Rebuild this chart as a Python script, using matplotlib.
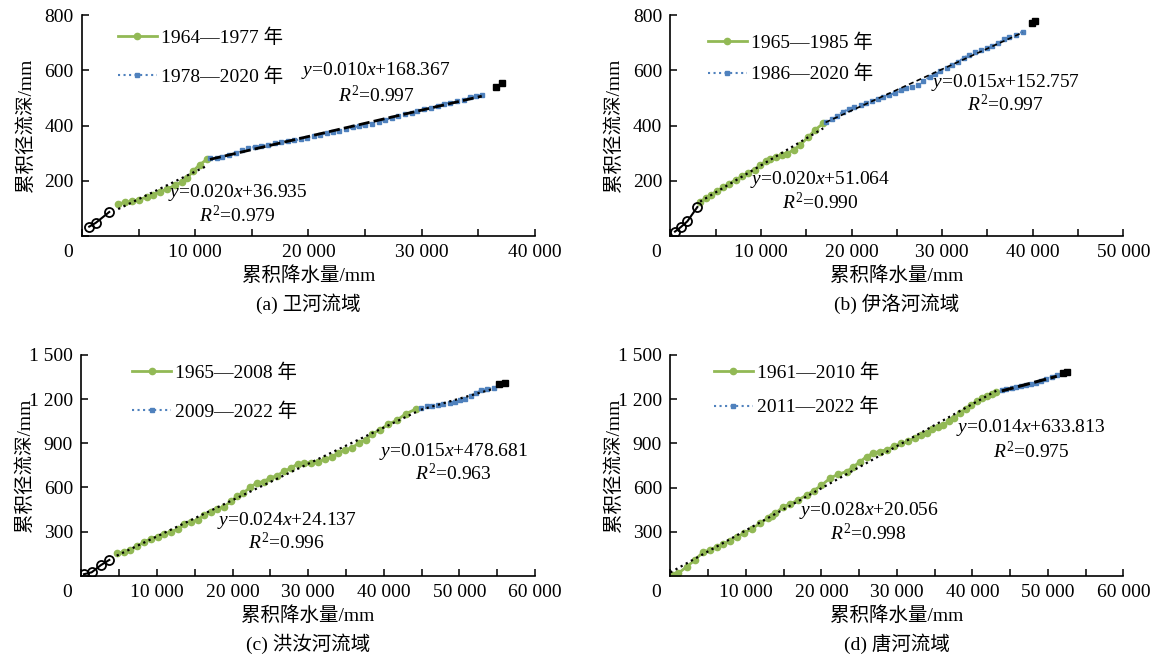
import numpy as np
import matplotlib
matplotlib.use('Agg')
import matplotlib.pyplot as plt
from matplotlib.ticker import FuncFormatter, MultipleLocator

plt.rcParams['font.family'] = ['Liberation Serif', 'Noto Sans CJK SC']
plt.rcParams['mathtext.fontset'] = 'custom'
plt.rcParams['mathtext.rm'] = 'Liberation Serif'
plt.rcParams['mathtext.it'] = 'Liberation Serif:italic'
plt.rcParams['font.size'] = 14

GREEN = '#92B955'
BLUE = '#4F81BD'

# ---- (a) 卫河流域 ----
a_pre_x = [640, 1230, 2410]
a_pre_y = [34, 48, 87]
a_g_x = [3200, 3800, 4400, 5000, 5700, 6300, 6900, 7500, 8200, 8800, 9300, 9800, 10400, 11000]
a_g_y = [116, 122, 125, 132, 140, 150, 160, 170, 183, 196, 210, 235, 258, 277]
a_b_x = [11300, 11900, 12400, 13000, 13600, 14100, 14700, 15300, 15800, 16400, 17000, 17600,
         18200, 18700, 19300, 19900, 20500, 21000, 21600, 22200, 22700, 23300, 23900, 24500,
         25000, 25600, 26200, 26800, 27400, 27900, 28500, 29100, 29600, 30200, 30800, 31400,
         32000, 32500, 33100, 33700, 34300, 34800, 35300]
a_b_y = [281, 283, 287, 293, 300, 310, 318, 323, 326, 330, 335, 340, 343, 346, 350, 355, 362,
         366, 372, 378, 381, 386, 393, 398, 402, 406, 414, 421, 428, 433, 442, 447, 452, 460,
         465, 472, 478, 483, 488, 494, 502, 507, 510]
a_post_x = [36600, 37130]
a_post_y = [538, 553]

# ---- (b) 伊洛河流域 ----
b_pre_x = [510, 1140, 1870, 2980]
b_pre_y = [16, 32, 53, 105]
b_g_x = [3280, 3900, 4500, 5200, 5860, 6500, 7200, 7900, 8600, 9300, 9920, 10500, 11030,
         11700, 12300, 12880, 13600, 14350, 15200, 16010, 16870]
b_g_y = [124, 137, 150, 163, 178, 190, 203, 216, 229, 240, 256, 270, 280, 285, 292, 298,
         312, 330, 358, 385, 408]
b_b_x = [17130, 17800, 18400, 19100, 19700, 20300, 21000, 21600, 22200, 22900, 23500, 24100,
         24800, 25400, 26000, 26700, 27300, 27900, 28600, 29200, 29800, 30500, 31100, 31700,
         32400, 33000, 33600, 34300, 34900, 35500, 36200, 36800, 37400, 38100, 38900]
b_b_y = [414, 425, 436, 450, 460, 468, 476, 482, 490, 497, 502, 510, 518, 527, 535, 541, 545,
         560, 576, 585, 596, 608, 618, 630, 645, 657, 665, 674, 680, 686, 698, 712, 720, 728, 740]
b_post_x = [39930, 40260]
b_post_y = [772, 779]

# ---- (c) 洪汝河流域 ----
c_pre_x = [360, 1380, 2570, 3710]
c_pre_y = [10, 23, 71, 107]
c_g_x = [4690, 5600, 6470, 7400, 8300, 9200, 10100, 11000, 11900, 12800, 13600, 14500, 15400,
         16200, 17100, 18000, 18900, 19800, 20600, 21400, 22300, 23200, 24100, 25000, 25900,
         26800, 27700, 28600, 29500, 30400, 31300, 32200, 33100, 34000, 34900, 35800, 36700,
         37600, 38500, 39500, 40600, 41700, 42900, 44260]
c_g_y = [152, 160, 175, 200, 230, 250, 265, 285, 300, 315, 350, 365, 380, 412, 430, 455, 470,
         505, 540, 560, 600, 630, 640, 665, 680, 710, 730, 760, 765, 768, 775, 790, 805, 835,
         855, 870, 900, 925, 965, 990, 1030, 1055, 1100, 1133]
c_b_x = [44920, 45700, 46400, 47200, 47900, 48700, 49400, 50100, 50800, 51500, 52200, 52900,
         53700, 54640]
c_b_y = [1142, 1150, 1155, 1160, 1165, 1175, 1180, 1195, 1200, 1218, 1240, 1262, 1268, 1278]
c_post_x = [55300, 55970]
c_post_y = [1301, 1308]

# ---- (d) 唐河流域 ----
d_g_x = [390, 1050, 2150, 3260, 4360, 5250, 6130, 7000, 7900, 8800, 9700, 10800, 11870, 12900,
         13400, 13900, 14960, 15900, 16900, 18060, 19000, 20000, 21150, 22200, 23360, 24200,
         25100, 26010, 26900, 27700, 28660, 29600, 30600, 31520, 32400, 33200, 33960, 34700,
         35400, 36150, 36900, 37600, 38410, 39100, 39800, 40580, 41300, 42000, 42600, 43160]
d_g_y = [5, 18, 63, 109, 164, 176, 199, 215, 240, 262, 290, 320, 357, 392, 410, 425, 470, 490,
         515, 550, 580, 615, 664, 690, 709, 740, 775, 811, 835, 845, 857, 880, 900, 913, 940,
         958, 970, 995, 1010, 1026, 1050, 1075, 1106, 1135, 1160, 1185, 1205, 1222, 1238, 1251]
d_b_x = [43890, 44500, 45200, 45800, 46500, 47100, 47700, 48400, 49100, 49800, 50500, 51180]
d_b_y = [1262, 1268, 1275, 1282, 1290, 1296, 1300, 1312, 1322, 1338, 1350, 1364]
d_post_x = [52050, 52580]
d_post_y = [1380, 1383]

# 图中标注的趋势线方程 (斜率, 截距, R2)
eq_green = [(0.020, 36.935, 0.979), (0.020, 51.064, 0.990), (0.024, 24.137, 0.996), (0.028, 20.056, 0.998)]
eq_blue = [(0.010, 168.367, 0.997), (0.015, 152.757, 0.997), (0.015, 478.681, 0.963), (0.014, 633.813, 0.975)]

labels_green = ['1964—1977 年', '1965—1985 年', '1965—2008 年', '1961—2010 年']
labels_blue = ['1978—2020 年', '1986—2020 年', '2009—2022 年', '2011—2022 年']
captions = ['(a) 卫河流域', '(b) 伊洛河流域', '(c) 洪汝河流域', '(d) 唐河流域']

pre = [(a_pre_x, a_pre_y), (b_pre_x, b_pre_y), (c_pre_x, c_pre_y), None]
green = [(a_g_x, a_g_y), (b_g_x, b_g_y), (c_g_x, c_g_y), (d_g_x, d_g_y)]
blue = [(a_b_x, a_b_y), (b_b_x, b_b_y), (c_b_x, c_b_y), (d_b_x, d_b_y)]
post = [(a_post_x, a_post_y), (b_post_x, b_post_y), (c_post_x, c_post_y), (d_post_x, d_post_y)]

xmax = [40000, 50000, 60000, 60000]
ymax = [800, 800, 1500, 1500]
ystep = [200, 200, 300, 300]

# 布局
rects = [(0.0709, 0.6413, 0.3919, 0.3359), (0.5799, 0.6413, 0.3919, 0.3359),
         (0.0703, 0.1251, 0.3925, 0.3354), (0.5799, 0.1246, 0.3919, 0.3359)]
leg_pos = [(0.0795, 0.938, 1.06), (0.083, 0.916, 0.67), (0.112, 0.961, 1.03), (0.096, 0.962, 0.83)]
txt_blue = [(0.649, 0.749, 0.638), (0.739, 0.695, 0.593), (0.821, 0.562, 0.463), (0.796, 0.672, 0.563)]
txt_green = [(0.343, 0.197, 0.093), (0.330, 0.256, 0.152), (0.453, 0.252, 0.150), (0.438, 0.296, 0.192)]
blue_fit_style = [dict(ls=(0, (4, 1.5)), lw=2.0), dict(ls=(0, (3, 2)), lw=1.2),
                  dict(ls=':', lw=1.6), dict(ls=(0, (4, 1.5)), lw=2.2)]

fmt = FuncFormatter(lambda v, p: '' if v == 0 else f'{int(v):,}'.replace(',', ' '))

fig = plt.figure(figsize=(11.56, 6.58), dpi=100)

for i in range(4):
    ax = fig.add_axes(rects[i])
    if pre[i] is not None:
        ax.plot(pre[i][0], pre[i][1], '-o', color='k', mfc='none', ms=6.5, mew=1.3, lw=1.5, zorder=3)
    gx, gy = np.array(green[i][0]), np.array(green[i][1])
    bx, by = np.array(blue[i][0]), np.array(blue[i][1])
    ax.plot(gx, gy, '-o', color=GREEN, ms=4.5, lw=2, label=labels_green[i], zorder=2)
    ax.plot(bx, by, ':s', color=BLUE, ms=3.5, lw=1.5, label=labels_blue[i], zorder=2)
    ax.plot(post[i][0], post[i][1], '-s', color='k', ms=5, lw=1.5, zorder=3)

    # 线性趋势线
    kg, bg = np.polyfit(gx, gy, 1)
    x0 = 0 if i == 3 else gx[0]
    xs = np.array([x0, gx[-1]])
    ax.plot(xs, kg * xs + bg, color='k', ls=':', lw=1.6, zorder=4)
    kb, bb = np.polyfit(bx, by, 1)
    xs = np.array([bx[0], bx[-1]])
    ax.plot(xs, kb * xs + bb, color='k', zorder=4, **blue_fit_style[i])

    k, b, r2 = eq_green[i]
    tx, ty1, ty2 = txt_green[i]
    ax.text(tx, ty1, f'$y$=%.3f$x$+%.3f' % (k, b), transform=ax.transAxes, ha='center', va='center')
    ax.text(tx, ty2, r'$R^{\mathrm{2}}$=%.3f' % r2, transform=ax.transAxes, ha='center', va='center')
    k, b, r2 = eq_blue[i]
    tx, ty1, ty2 = txt_blue[i]
    ax.text(tx, ty1, f'$y$=%.3f$x$+%.3f' % (k, b), transform=ax.transAxes, ha='center', va='center')
    ax.text(tx, ty2, r'$R^{\mathrm{2}}$=%.3f' % r2, transform=ax.transAxes, ha='center', va='center')

    ax.set_xlim(0, xmax[i])
    ax.set_ylim(0, ymax[i])
    ax.xaxis.set_major_locator(MultipleLocator(10000))
    ax.xaxis.set_minor_locator(MultipleLocator(5000))
    ax.yaxis.set_major_locator(MultipleLocator(ystep[i]))
    ax.xaxis.set_major_formatter(fmt)
    ax.yaxis.set_major_formatter(fmt)
    ax.tick_params(which='both', direction='in', length=5, width=1.1, pad=6, labelsize=14)
    ax.tick_params(axis='x', which='minor', length=5)
    for s in ['top', 'right']:
        ax.spines[s].set_visible(False)
    for s in ['left', 'bottom']:
        ax.spines[s].set_linewidth(1.2)

    ax.annotate('0', xy=(0, 0), xycoords='axes fraction', xytext=(-10, -12),
                textcoords='offset points', ha='center', va='center', fontsize=14)
    ax.text(-0.125, 0.5, '累积径流深/mm', rotation=90, transform=ax.transAxes,
            ha='center', va='center', fontsize=14)
    ax.text(0.5, -0.181, '累积降水量/mm', transform=ax.transAxes, ha='center', va='center', fontsize=14)
    ax.text(0.5, -0.308, captions[i], transform=ax.transAxes, ha='center', va='center', fontsize=14)

    lx, ly, ls = leg_pos[i]
    ax.legend(loc='upper left', bbox_to_anchor=(lx, ly), frameon=False, borderpad=0,
              borderaxespad=0, handlelength=2.0, handletextpad=0.2, labelspacing=ls, fontsize=14)

fig.savefig('out.png', dpi=100)
